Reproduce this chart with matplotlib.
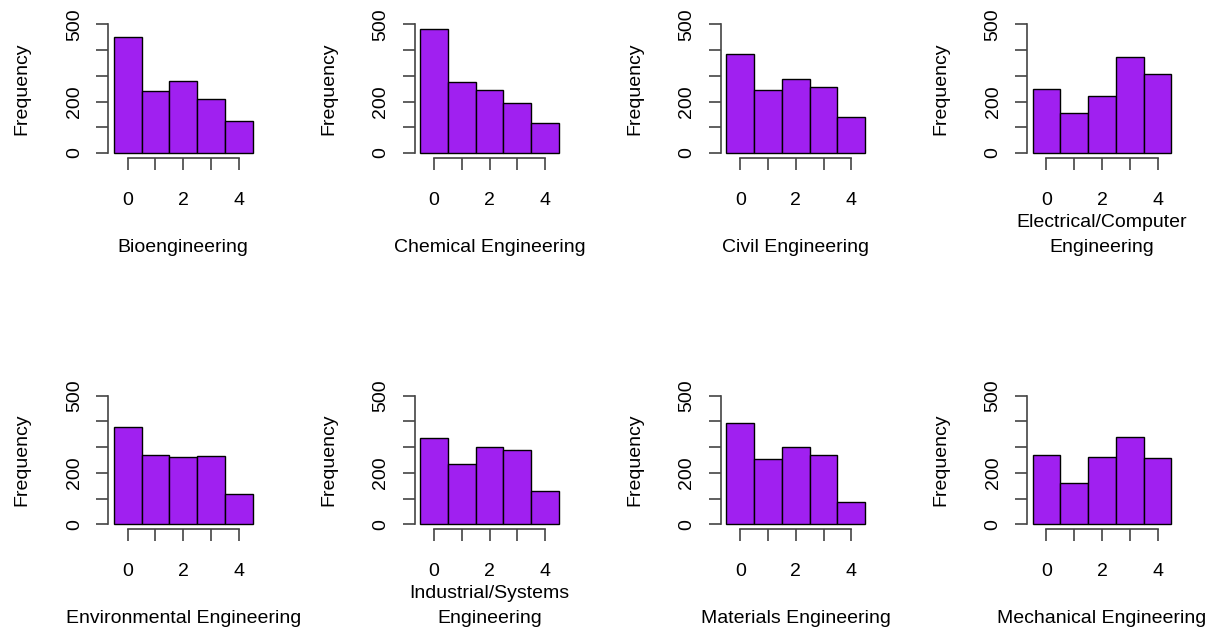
import matplotlib
matplotlib.use("Agg")
import matplotlib.pyplot as plt

# counts per value 0..4 for each major
levels = [0, 1, 2, 3, 4]
majors = ["Bioengineering", "Chemical Engineering", "Civil Engineering",
          "Electrical/Computer\nEngineering", "Environmental Engineering",
          "Industrial/Systems\nEngineering", "Materials Engineering",
          "Mechanical Engineering"]
bio = [450, 242, 280, 210, 125]
chem = [480, 275, 243, 193, 115]
civil = [385, 246, 289, 256, 138]
elec = [249, 154, 223, 374, 308]
env = [378, 270, 261, 266, 116]
indus = [337, 236, 301, 290, 130]
mater = [392, 253, 300, 268, 87]
mech = [269, 160, 261, 338, 257]
counts = [bio, chem, civil, elec, env, indus, mater, mech]

plt.rcParams['font.family'] = ['Liberation Sans', 'DejaVu Sans']
FS = 14
W, H = 1225, 633
fig = plt.figure(figsize=(W / 100, H / 100), dpi=100)

col_left = [108.3, 414.55, 720.8, 1027.05]
row_top = [19.2, 390.5]
pw, ph = 149.9, 138.9
label_y = [247.7, 618.3]
axis_col = '#444444'

for i, (name, vals) in enumerate(zip(majors, counts)):
    r, c = divmod(i, 4)
    x0, y0 = col_left[c], row_top[r]
    ax = fig.add_axes([x0 / W, 1 - (y0 + ph) / H, pw / W, ph / H])
    ax.bar(levels, vals, width=1, color='#A020F0', edgecolor='black', linewidth=1.0)
    ax.set_xlim(-0.7, 4.7)
    ax.set_ylim(-20, 520)
    for s in ['top', 'right']:
        ax.spines[s].set_visible(False)
    ax.spines['left'].set_bounds(0, 500)
    ax.spines['bottom'].set_bounds(0, 4)
    for s in ['left', 'bottom']:
        ax.spines[s].set_color(axis_col)
        ax.spines[s].set_linewidth(1.2)
    ax.set_xticks(levels)
    ax.set_xticklabels(['0', '', '2', '', '4'])
    ax.set_yticks([0, 100, 200, 300, 400, 500])
    ax.set_yticklabels(['0', '', '200', '', '', '500'], rotation=90, va='center')
    ax.tick_params(axis='both', direction='out', length=8.3, width=1.2,
                   color=axis_col, labelsize=FS)
    ax.tick_params(axis='x', pad=16)
    ax.tick_params(axis='y', pad=10)
    ax.set_ylabel('Frequency', fontsize=FS)
    ax.yaxis.set_label_coords(-77.5 / pw, 0.5)
    cx = (x0 + pw / 2) / W
    lines = name.split('\n')
    for k, line in enumerate(reversed(lines)):
        fig.text(cx, 1 - (label_y[r] - 25 * k) / H, line, ha='center', va='center',
                 fontsize=FS)

fig.savefig('out.png', dpi=100)
